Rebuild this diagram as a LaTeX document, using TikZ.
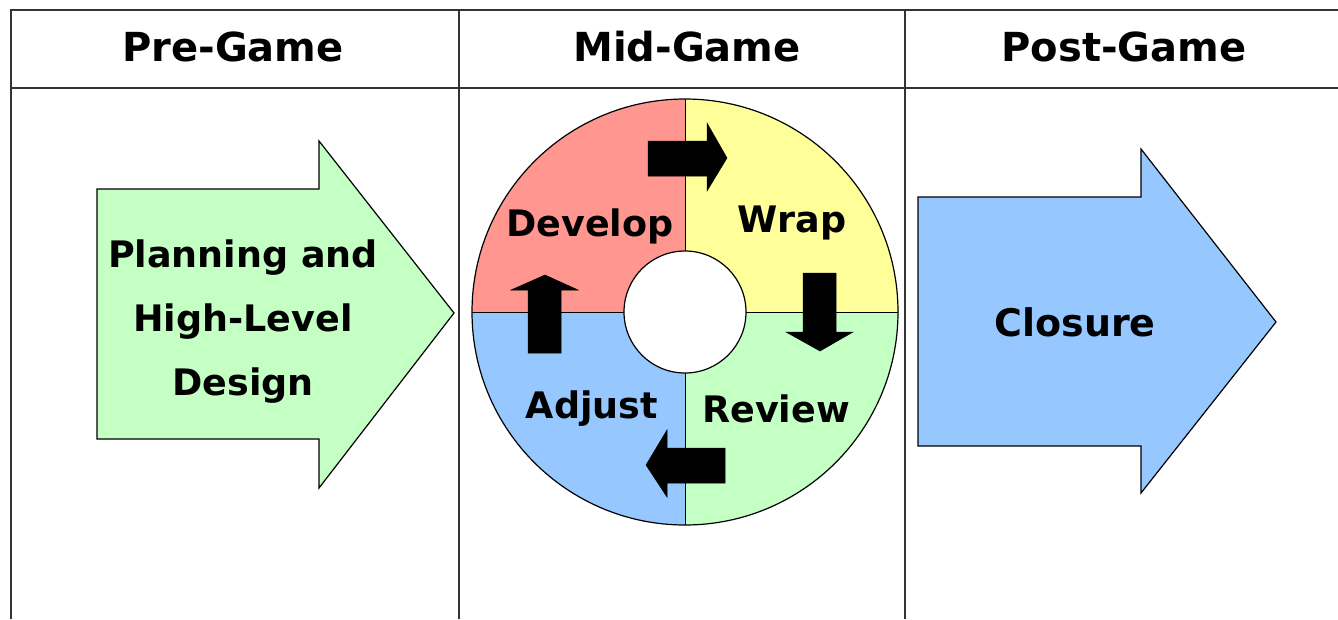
\documentclass[tikz,border=0pt]{standalone}
\usepackage{fontspec}
\setmainfont{DejaVu Sans}
\definecolor{devred}{HTML}{FF9690}
\definecolor{wrapyellow}{HTML}{FFFF99}
\definecolor{revgreen}{HTML}{C4FFC4}
\definecolor{adjblue}{HTML}{96C8FF}
\definecolor{gridgray}{HTML}{333333}
\begin{document}
\begin{tikzpicture}[x=1pt,y=-1pt,
  gridline/.style={draw=gridgray,line width=2pt},
  outline/.style={draw=black,line width=1.2pt,line join=miter},
  blockarrow/.style={fill=black,draw=black,line width=0.5pt},
  header/.style={font=\bfseries\fontsize{40}{46}\selectfont,inner sep=0pt},
  label/.style={font=\bfseries\fontsize{36.5}{64}\selectfont,inner sep=0pt,align=center},
  seg/.style={font=\bfseries\fontsize{36.5}{42}\selectfont,inner sep=0pt}]
\useasboundingbox (0,0) rectangle (1338,619);

% table grid
\draw[gridline] (11,619) -- (11,10) -- (1338,10);
\draw[gridline] (11,88) -- (1338,88);
\draw[gridline] (459,10) -- (459,619);
\draw[gridline] (905,10) -- (905,619);

\node[header] (pre)  at (233,47) {Pre-Game};
\node[header] (mid)  at (687,47) {Mid-Game};
\node[header] (post) at (1124,47) {Post-Game};

% pre-game arrow
\draw[outline,fill=revgreen] (97,189) -- (319,189) -- (319,141) -- (454,313)
  -- (319,488) -- (319,439) -- (97,439) -- cycle;
\node[label] (plan) at (243,322) {Planning and\\High-Level\\Design};

% post-game arrow
\draw[outline,fill=adjblue] (918,197) -- (1141,197) -- (1141,149) -- (1276,322)
  -- (1141,493) -- (1141,446) -- (918,446) -- cycle;
\node[seg,font=\bfseries\fontsize{38}{42}\selectfont] (closure) at (1075,322) {Closure};

% mid-game cycle: four quarter rings (y axis points down, so angles run clockwise)
\coordinate (c) at (685,312);
\fill[devred] (c) -- (472,312) arc[start angle=180,end angle=270,radius=213] -- cycle;
\fill[wrapyellow] (c) -- (685,99) arc[start angle=270,end angle=360,radius=213] -- cycle;
\fill[revgreen] (c) -- (898,312) arc[start angle=0,end angle=90,radius=213] -- cycle;
\fill[adjblue] (c) -- (685,525) arc[start angle=90,end angle=180,radius=213] -- cycle;
\draw[black,line width=1pt] (685,99) -- (685,525);
\draw[black,line width=1pt] (472,312) -- (898,312);
\draw[outline] (c) circle[radius=213];
\draw[outline,fill=white] (c) circle[radius=61];

\node[seg] (develop) at (590,226) {Develop};
\node[seg] (wrap)    at (792,223) {Wrap};
\node[seg] (review)  at (776,409) {Review};
\node[seg] (adjust)  at (592,409) {Adjust};

% cycle direction arrows
\draw[blockarrow] (648,141) -- (707,141) -- (707,123) -- (727,158) -- (707,191)
  -- (707,176) -- (648,176) -- cycle;
\draw[blockarrow] (803,273) -- (836,273) -- (836,332) -- (853,332) -- (820,351)
  -- (786,332) -- (803,332) -- cycle;
\draw[blockarrow] (725,448) -- (725,483) -- (667,483) -- (667,497) -- (646,465)
  -- (667,430) -- (667,448) -- cycle;
\draw[blockarrow] (528,353) -- (528,290) -- (511,290) -- (545,275) -- (578,290)
  -- (561,290) -- (561,353) -- cycle;
\end{tikzpicture}
\end{document}
